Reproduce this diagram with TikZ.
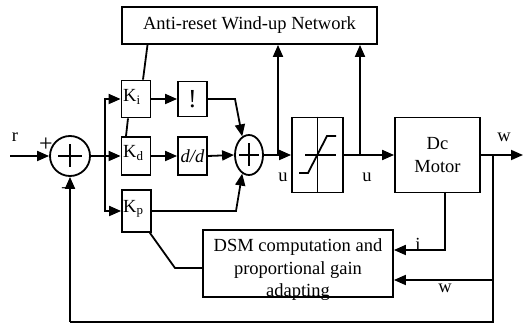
\documentclass[tikz,border=0pt]{standalone}
\usepackage{fontspec}
\setmainfont{Liberation Serif}
\usetikzlibrary{arrows.meta,shapes.geometric,calc}
\begin{document}
\begin{tikzpicture}[x=1pt,y=-1pt,
  ln/.style={line width=1.8pt},
  arr/.style={ln,-{Triangle[length=12pt,width=10pt]}},
  blk/.style={draw,line width=1.8pt,inner sep=0pt,rectangle},
  txt/.style={font=\fontsize{18.5}{22.5}\selectfont,inner sep=0pt},
  lbl/.style={font=\fontsize{18.5}{22}\selectfont,inner sep=0pt}]
\useasboundingbox (0,0) rectangle (523,326);

% blocks
\node[blk,txt,minimum width=255pt,minimum height=37pt] (anti) at (249.5,25.5) {Anti-reset Wind-up Network};
\node[draw,line width=1.8pt,circle,minimum size=40pt,inner sep=0pt] (sum1) at (70,156) {};
\node[blk,minimum width=29pt,minimum height=37pt] (ki) at (136,99) {};
\node[txt,anchor=west] (kit) at (123,97) {K\textsubscript{i}};
\node[blk,minimum width=29pt,minimum height=38pt] (kd) at (136,156) {};
\node[txt,anchor=west] (kdt) at (123,153) {K\textsubscript{d}};
\node[blk,minimum width=29pt,minimum height=42pt] (kp) at (136.5,211) {};
\node[txt,anchor=west] (kpt) at (123,209) {K\textsubscript{p}};
\node[blk,font=\fontsize{26}{26}\selectfont,minimum width=29pt,minimum height=35pt] (integ) at (192.5,99) {!};
\node[blk,txt,minimum width=29pt,minimum height=38pt] (dd) at (192.5,156) {\itshape d/d};
\node[draw,line width=1.8pt,ellipse,minimum width=28pt,minimum height=40pt,inner sep=0pt] (sum2) at (249,155) {};
\node[blk,minimum width=51pt,minimum height=75pt] (sat) at (317.5,155) {};
\node[blk,txt,align=center,minimum width=85pt,minimum height=75pt] (motor) at (437.5,155) {Dc\\Motor};
\node[blk,minimum width=190pt,minimum height=67pt] (dsm) at (298,263.5) {};
\node[txt,align=center] (dsmt) at (298,270) {DSM computation and\\proportional gain\\adapting};

% plus signs inside summers
\draw[ln] ($(sum1.center)+(-12,0)$) -- ($(sum1.center)+(12,0)$);
\draw[ln] ($(sum1.center)+(0,-11.5)$) -- ($(sum1.center)+(0,11.5)$);
\draw[ln] ($(sum2.center)+(-10,0)$) -- ($(sum2.center)+(10,0)$);
\draw[ln] ($(sum2.center)+(0,-11.5)$) -- ($(sum2.center)+(0,11.5)$);

% saturation graphic
\draw[ln] (sat.north) -- (sat.south);
\coordinate (sa1) at (305,155);
\coordinate (sa2) at (336,155);
\draw[ln] (sa1) -- (sa2);
\coordinate (c1) at (299,173);
\coordinate (c2) at (308,173);
\coordinate (c3) at (327,136);
\coordinate (c4) at (336,136);
\draw[ln] (c1) -- (c2) -- (c3) -- (c4);

% coordinates
\coordinate (rin) at (10,156);
\coordinate (b1) at (105,156);
\coordinate (j1) at (278,155);
\coordinate (j2) at (360,155);
\coordinate (wout) at (523,155);
\coordinate (wj) at (493,155);
\coordinate (wb) at (493,322);
\coordinate (fb) at (70,322);
\coordinate (wd) at (493,280);
\coordinate (mb) at (445,192);
\coordinate (mi) at (445,250);
\coordinate (ib) at (235,99);
\coordinate (pb) at (236,211);
\coordinate (kpd) at (175,268);

% connectors
\draw[arr] (rin) -- (sum1.west);
\draw[arr] (sum1.east) -- (kd.west);
\draw[arr] (b1) |- (ki.west);
\draw[arr] (b1) |- (kp.west);
\draw[arr] (ki.east) -- (integ.west);
\draw[arr] (kd.east) -- (dd.west);
\draw[arr] (integ.east) -- (ib) -- (sum2.110);
\draw[arr] (dd.east) -- (sum2.west);
\draw[arr] (kp.east) -- (pb) -- (sum2.250);
\draw[arr] (sum2.east) -- (sat.west);
\draw[arr] (j1) -- (j1 |- anti.south);
\draw[arr] (sat.east) -- (motor.west);
\draw[arr] (j2) -- (j2 |- anti.south);
\draw[arr] (motor.east) -- (wout);
\draw[ln] (wj) -- (wb) -- (fb);
\draw[arr] (fb) -- (sum1.south);
\draw[arr] (wd) -- (wd -| dsm.east);
\draw[arr] (mb) -- (mi) -- (mi -| dsm.east);
\draw[ln] ([xshift=-2pt]kp.south east) -- (kpd) -- (kpd -| dsm.west);
\draw[ln] ([xshift=7pt]ki.north) -- ([xshift=-102pt]anti.south);
\draw[ln] ([xshift=-8pt]ki.south) -- ([xshift=-10pt]kd.north);

% labels
\node[lbl] (lr) at (15,137) {r};
\node[font=\fontsize{24}{24}\selectfont,inner sep=0pt] (lplus) at (46,145) {+};
\node[font=\fontsize{22}{22}\selectfont,inner sep=0pt] (lminus) at (67,192) {−};
\node[lbl] (lu1) at (283,177) {u};
\node[lbl] (lu2) at (367,177) {u};
\node[lbl] (lw1) at (504,137) {w};
\node[lbl] (li) at (418,244) {i};
\node[lbl] (lw2) at (445,288) {w};
\end{tikzpicture}
\end{document}
